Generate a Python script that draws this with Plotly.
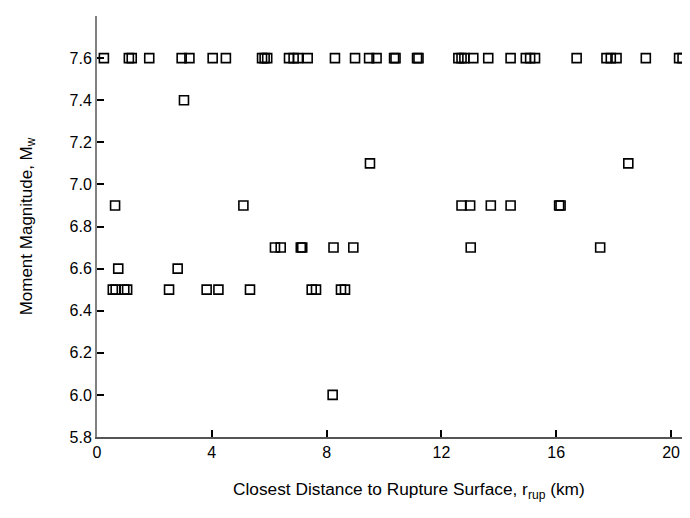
import plotly.graph_objects as go

# Closest distance (km) and moment magnitude
dist_76 = [0.24, 1.11, 1.21, 1.82, 2.95, 3.22, 4.03, 4.49, 5.75, 5.84, 5.93,
           6.69, 6.85, 7.0, 7.34, 8.29, 8.99, 9.48, 9.74, 10.35, 10.4, 11.15, 11.2,
           12.59, 12.7, 12.8, 13.11, 13.63, 14.41, 14.94, 15.09, 15.26, 16.71,
           17.75, 17.9, 18.1, 19.12, 20.28, 20.4]
dist_74 = [3.03]
dist_71 = [9.51, 18.51]
dist_69 = [0.63, 5.1, 12.7, 13.0, 13.72, 14.41, 16.1, 16.15]
dist_67 = [6.2, 6.4, 7.1, 7.15, 8.24, 8.93, 13.02, 17.53]
dist_66 = [0.74, 2.81]
dist_65 = [0.55, 0.65, 0.95, 1.05, 2.51, 3.82, 4.23, 5.33, 7.48, 7.63, 8.5, 8.64]
dist_60 = [8.21]

groups = [(7.6, dist_76), (7.4, dist_74), (7.1, dist_71), (6.9, dist_69),
          (6.7, dist_67), (6.6, dist_66), (6.5, dist_65), (6.0, dist_60)]

x_vals = []
y_vals = []
for mag, ds in groups:
    for d in ds:
        x_vals.append(d)
        y_vals.append(mag)

x_ticks = [0, 4, 8, 12, 16, 20]
y_ticks = [5.8, 6.0, 6.2, 6.4, 6.6, 6.8, 7.0, 7.2, 7.4, 7.6, 7.8]

fig = go.Figure()
fig.add_trace(go.Scatter(
    x=x_vals, y=y_vals, mode="markers",
    marker=dict(symbol="square-open", size=9, color="black",
                line=dict(width=1.6, color="black")),
    showlegend=False, cliponaxis=False,
))

FAM = "Liberation Sans, Arial, sans-serif"
tick_font = dict(family=FAM, size=16, color="black")
title_font = dict(family=FAM, size=17, color="black")

fig.update_layout(
    width=682, height=510,
    margin=dict(l=89, r=2, t=8, b=81),
    paper_bgcolor="white", plot_bgcolor="white",
    font=tick_font,
    xaxis=dict(
        range=[0, 20.59], tickvals=x_ticks, ticktext=[str(v) for v in x_ticks],
        showgrid=False, zeroline=False, showline=True, linecolor="#555555", linewidth=2,
        ticks="inside", ticklen=7, tickwidth=1.5, tickcolor="black",
        tickfont=tick_font,
    ),
    yaxis=dict(
        range=[5.8, 7.8], tickvals=y_ticks, ticktext=[f"{v:.1f}" for v in y_ticks],
        showgrid=False, zeroline=False, showline=True, linecolor="#808080", linewidth=2,
        ticks="inside", ticklen=7, tickwidth=1.5, tickcolor="black",
        tickfont=tick_font,
        title=dict(text="Moment Magnitude, M<sub>w</sub>",
                   font=title_font, standoff=33),
    ),
    annotations=[dict(
        text="Closest Distance to Rupture Surface, r<sub>rup</sub> (km)",
        xref="paper", yref="paper", x=0.528, y=0, xanchor="center", yanchor="middle",
        yshift=-53, showarrow=False, font=dict(family=FAM, size=17.3, color="black"),
    )],
)

fig.write_html("out.html")
